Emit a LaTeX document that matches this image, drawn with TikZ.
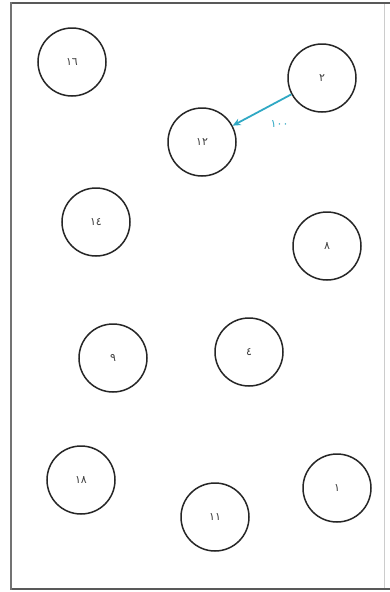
\documentclass[tikz,border=0pt]{standalone}
\usepackage{fontspec}
\newfontfamily\arabicfont[Script=Arabic]{DejaVu Sans}
\usetikzlibrary{arrows.meta}
\definecolor{edgecyan}{HTML}{2FA8C4}
\begin{document}
\begin{tikzpicture}[x=1pt,y=-1pt,
  vtx/.style={circle,draw=black!85,line width=1.5pt,minimum size=68pt,inner sep=0pt,font=\arabicfont\fontsize{11}{12}\selectfont,text=black!75},
  edgearrow/.style={draw=edgecyan,line width=1.8pt,-{Stealth[length=8pt,width=7pt]}},
  elabel/.style={font=\arabicfont\fontsize{11}{12}\selectfont,text=edgecyan}]
\useasboundingbox (0,0) rectangle (390,592);
\fill[white] (0,0) rectangle (390,592);
\draw[black!20,line width=0.8pt] (384,3) -- (384,589);
\draw[black!65,line width=1.6pt] (10,3) -- (390,3);
\draw[black!65,line width=1.6pt] (10,589) -- (390,589);
\draw[black!55,line width=2.6pt] (11,2) -- (11,590);
\node[vtx] (n16) at (72,62) {١٦};
\node[vtx] (n2) at (322,78) {٢};
\node[vtx] (n12) at (202,142) {١٢};
\node[vtx] (n14) at (96,222) {١٤};
\node[vtx] (n8) at (327,246) {٨};
\node[vtx] (n9) at (113,358) {٩};
\node[vtx] (n4) at (249,352) {٤};
\node[vtx] (n18) at (81,480) {١٨};
\node[vtx] (n11) at (215,517) {١١};
\node[vtx] (n1) at (337,488) {١};
\draw[edgearrow] (n2) -- (n12) node[elabel,pos=0.2,below=16pt] (lab) {١٠٠};
\end{tikzpicture}
\end{document}
